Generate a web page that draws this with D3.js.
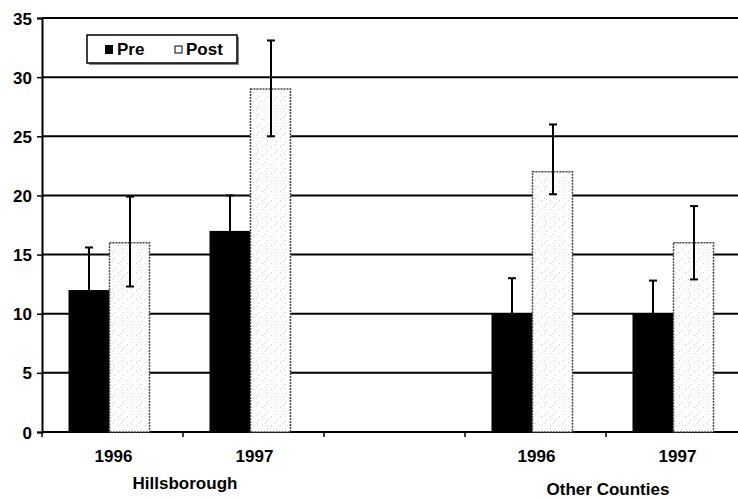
<!DOCTYPE html>
<html>
<head>
<meta charset="utf-8">
<script src="https://cdn.jsdelivr.net/npm/d3@7"></script>
<style>
  body { margin: 0; background: #fff; }
  svg { display: block; font-family: "Liberation Sans", Arial, sans-serif; }
  .lbl { font-size: 17px; font-weight: bold; fill: #000; }
</style>
</head>
<body>
<svg id="chart" width="738" height="498"></svg>
<script>
// data
var years  = ["1996", "1997", "", "1996", "1997"];
var groups = ["Hillsborough", "Other Counties"];
var groupSlots = [[0, 1], [3, 4]];
var series = ["Pre", "Post"];
var preVals  = [12, 17, null, 10, 10];
var postVals = [16, 29, null, 22, 16];
var preHi  = [15.6, 20, null, 13, 12.8];
var preLo  = [8.4, 14, null, 7, 7.2];
var postHi = [19.9, 33.1, null, 26, 19.1];
var postLo = [12.3, 25, null, 20.1, 12.9];
var yTicks = [0, 5, 10, 15, 20, 25, 30, 35];

var svg = d3.select("#chart");
var width = 738, height = 498;
var margin = {left: 42, top: 18, bottom: 66};

var y = d3.scaleLinear()
  .domain([0, 35])
  .range([height - margin.bottom, margin.top]);

// 5 slots, the last one runs off the right edge like the scan
var x0 = d3.scaleBand()
  .domain(d3.range(years.length))
  .range([margin.left, margin.left + 141 * years.length]);

var x1 = d3.scaleBand()
  .domain(series)
  .range([0, 82]);

function barLeft(i) { return x0(i) + x0.bandwidth() / 2 - 41 - 3; }

// light stipple for the Post bars
var defs = svg.append("defs");
var pat = defs.append("pattern")
  .attr("id", "stip")
  .attr("width", 9).attr("height", 9)
  .attr("patternUnits", "userSpaceOnUse");
pat.append("rect").attr("width", 9).attr("height", 9).attr("fill", "#fff");
[[1,2],[6,6],[4,0]].forEach(function(p){
  pat.append("rect").attr("x", p[0]).attr("y", p[1]).attr("width", 1).attr("height", 1).attr("fill", "#ccc");
});

// gridlines
svg.append("g")
  .selectAll("line")
  .data(yTicks.filter(function(d){ return d > 0; }))
  .enter().append("line")
    .attr("x1", margin.left).attr("x2", width)
    .attr("y1", function(d){ return y(d); })
    .attr("y2", function(d){ return y(d); })
    .attr("stroke", "#000").attr("stroke-width", 2);

// y axis
var yAxis = d3.axisLeft(y).tickValues(yTicks).tickSize(5).tickPadding(5);
var gy = svg.append("g")
  .attr("transform", "translate(" + margin.left + ",0)")
  .call(yAxis);
gy.select(".domain").attr("stroke-width", 2);
gy.selectAll(".tick line").attr("stroke-width", 1.5);
gy.selectAll("text").attr("class", "lbl").attr("dy", "0.36em");

// x axis (ticks between categories)
svg.append("line")
  .attr("x1", margin.left).attr("x2", width)
  .attr("y1", y(0)).attr("y2", y(0))
  .attr("stroke", "#000").attr("stroke-width", 2);
svg.append("g")
  .selectAll("line")
  .data(d3.range(years.length))
  .enter().append("line")
    .attr("x1", function(i){ return x0(i); })
    .attr("x2", function(i){ return x0(i); })
    .attr("y1", y(0)).attr("y2", y(0) + 5)
    .attr("stroke", "#000").attr("stroke-width", 1.5);

// bars
var slots = d3.range(years.length).filter(function(i){ return preVals[i] != null; });

svg.append("g").selectAll("rect")
  .data(slots)
  .enter().append("rect")
    .attr("x", function(i){ return barLeft(i) + x1("Pre"); })
    .attr("width", x1.bandwidth())
    .attr("y", function(i){ return y(preVals[i]); })
    .attr("height", function(i){ return y(0) - y(preVals[i]); })
    .attr("fill", "#000");

svg.append("g").selectAll("rect")
  .data(slots)
  .enter().append("rect")
    .attr("x", function(i){ return barLeft(i) + x1("Post"); })
    .attr("width", x1.bandwidth() - 1)
    .attr("y", function(i){ return y(postVals[i]); })
    .attr("height", function(i){ return y(0) - y(postVals[i]); })
    .attr("fill", "url(#stip)")
    .attr("stroke", "#444").attr("stroke-width", 1.5)
    .attr("stroke-dasharray", "2,1");

// error bars
function errBars(name, lo, hi) {
  var g = svg.append("g").attr("stroke", "#000").attr("stroke-width", 2);
  var cx = function(i){ return barLeft(i) + x1(name) + x1.bandwidth() / 2; };
  g.selectAll(".v").data(slots).enter().append("line")
    .attr("x1", cx).attr("x2", cx)
    .attr("y1", function(i){ return y(lo[i]); })
    .attr("y2", function(i){ return y(hi[i]); });
  [lo, hi].forEach(function(arr){
    g.selectAll(null).data(slots).enter().append("line")
      .attr("x1", function(i){ return cx(i) - 4; })
      .attr("x2", function(i){ return cx(i) + 4; })
      .attr("y1", function(i){ return y(arr[i]); })
      .attr("y2", function(i){ return y(arr[i]); });
  });
}
errBars("Pre", preLo, preHi);
errBars("Post", postLo, postHi);

// category labels
svg.append("g").selectAll("text")
  .data(slots)
  .enter().append("text")
    .attr("class", "lbl")
    .attr("text-anchor", "middle")
    .attr("x", function(i){ return x0(i) + x0.bandwidth() / 2 + 1; })
    .attr("y", 462)
    .text(function(i){ return years[i]; });

svg.append("g").selectAll("text")
  .data(groups)
  .enter().append("text")
    .attr("class", "lbl")
    .attr("text-anchor", "middle")
    .attr("x", function(d, k){ return x0(groupSlots[k][1]) + 2; })
    .attr("y", function(d, k){ return k === 0 ? 489 : 495; })
    .text(function(d){ return d; });

// legend
var lg = svg.append("g").attr("transform", "translate(87,35)");
lg.append("rect").attr("x", 2).attr("y", 2).attr("width", 150).attr("height", 28).attr("fill", "#888");
lg.append("rect").attr("width", 150).attr("height", 28)
  .attr("fill", "#fff").attr("stroke", "#000").attr("stroke-width", 1.5);
lg.append("rect").attr("x", 18).attr("y", 10).attr("width", 8).attr("height", 9).attr("fill", "#000");
lg.append("text").attr("class", "lbl").attr("x", 30).attr("y", 20).text(series[0]);
lg.append("rect").attr("x", 88).attr("y", 11).attr("width", 7).attr("height", 7)
  .attr("fill", "url(#stip)").attr("stroke", "#000").attr("stroke-width", 1);
lg.append("text").attr("class", "lbl").attr("x", 99).attr("y", 20).text(series[1]);
</script>
</body>
</html>
